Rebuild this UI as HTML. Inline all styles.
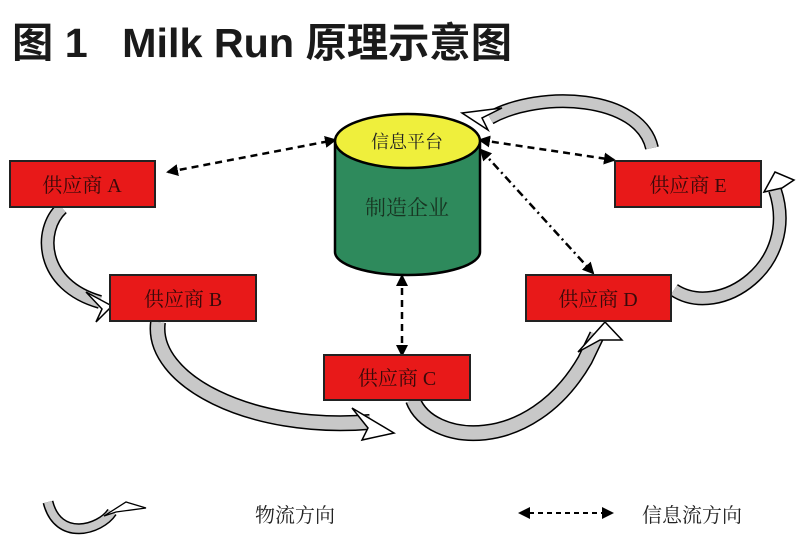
<!DOCTYPE html>
<html><head><meta charset="utf-8"><style>
html,body{margin:0;padding:0;background:#fff;width:800px;height:535px;overflow:hidden}
svg{display:block}
text{font-family:"Liberation Serif","Noto Serif CJK SC","Noto Sans CJK SC",serif}
</style></head><body>
<svg width="800" height="535" viewBox="0 0 800 535" xmlns="http://www.w3.org/2000/svg">
<defs>
<marker id="ah" markerWidth="12" markerHeight="12" refX="10" refY="6" orient="auto-start-reverse" markerUnits="userSpaceOnUse">
<path d="M0,0 L12,6 L0,12 z" fill="#000"/>
</marker>
</defs>
<text x="12" y="57" font-weight="bold" font-size="41" fill="#1a1a1a" textLength="500" lengthAdjust="spacingAndGlyphs" style="font-family:'Liberation Sans','Noto Sans CJK SC',sans-serif">图 1&#160;&#160;&#160;Milk Run 原理示意图</text>

<g stroke-linejoin="round" fill="none">
<path d="M62,208 C38,230 40,285 100,302" stroke="#000" stroke-width="14"/>
<path d="M62,208 C38,230 40,285 100,302" stroke="#c8c8c8" stroke-width="11"/>
<path d="M158,322 C150,380 250,432 370,422" stroke="#000" stroke-width="16"/>
<path d="M158,322 C150,380 250,432 370,422" stroke="#c8c8c8" stroke-width="13"/>
<path d="M413,400 C430,445 530,455 585,360 L597,335" stroke="#000" stroke-width="16"/>
<path d="M413,400 C430,445 530,455 585,360 L597,335" stroke="#c8c8c8" stroke-width="13"/>
<path d="M674,290 C720,320 800,265 775,190" stroke="#000" stroke-width="14"/>
<path d="M674,290 C720,320 800,265 775,190" stroke="#c8c8c8" stroke-width="11"/>
<path d="M652,148 C640,95 540,90 490,118" stroke="#000" stroke-width="14"/>
<path d="M652,148 C640,95 540,90 490,118" stroke="#c8c8c8" stroke-width="11"/>
</g>
<g fill="#fff" stroke="#000" stroke-width="1.5" stroke-linejoin="miter">
<path d="M86,292 L112,306 L96,322 L102,309 z"/>
<path d="M352,408 L394,433 L362,440 L368,428 z"/>
<path d="M578,352 L605,322 L622,340 L600,340 z"/>
<path d="M764,192 L775,172 L794,180 L782,188 z"/>
<path d="M502,108 L462,113 L488,130 L482,118 z"/>
</g>

<g stroke="#000" stroke-width="2.5" stroke-dasharray="7,5" fill="none">
<line x1="168" y1="172" x2="335" y2="140" marker-start="url(#ah)" marker-end="url(#ah)"/>
<line x1="480" y1="140" x2="614" y2="160" marker-start="url(#ah)" marker-end="url(#ah)"/>
<line x1="402" y1="276" x2="402" y2="355" marker-start="url(#ah)" marker-end="url(#ah)"/>
</g>
<line x1="481" y1="150" x2="593" y2="273" stroke="#000" stroke-width="2.5" stroke-dasharray="8,4,2,4" marker-start="url(#ah)" marker-end="url(#ah)"/>

<path d="M335,141 L335,252 A72.5,23 0 0 0 480,252 L480,141 z" fill="#2e8a5c" stroke="#000" stroke-width="2.5"/>
<ellipse cx="407.5" cy="141" rx="72.5" ry="27" fill="#efef3c" stroke="#000" stroke-width="2.5"/>
<text x="407" y="148" font-size="18" text-anchor="middle" fill="#222">信息平台</text>
<text x="407" y="215" font-size="21" text-anchor="middle" fill="#183522">制造企业</text>

<g fill="#e81919" stroke="#222" stroke-width="2">
<rect x="10" y="161" width="145" height="46"/>
<rect x="110" y="275" width="146" height="46"/>
<rect x="324" y="355" width="146" height="45"/>
<rect x="526" y="275" width="145" height="46"/>
<rect x="615" y="161" width="146" height="46"/>
</g>
<g font-size="20" fill="#3a0a0a" text-anchor="middle">
<text x="82" y="192">供应商 A</text>
<text x="183" y="306">供应商 B</text>
<text x="397" y="385">供应商 C</text>
<text x="598" y="306">供应商 D</text>
<text x="688" y="192">供应商 E</text>
</g>

<path d="M48,502 C58,542 100,530 112,512" stroke="#000" stroke-width="11" fill="none"/>
<path d="M48,502 C58,542 100,530 112,512" stroke="#c8c8c8" stroke-width="8" fill="none"/>
<path d="M104,516 L126,502 L146,508 L116,512 z" fill="#fff" stroke="#000" stroke-width="1.3"/>
<text x="255" y="522" font-size="20" fill="#222">物流方向</text>
<line x1="520" y1="513" x2="612" y2="513" stroke="#000" stroke-width="2" stroke-dasharray="5,4" marker-start="url(#ah)" marker-end="url(#ah)"/>
<text x="642" y="522" font-size="20" fill="#222">信息流方向</text>
</svg>
</body></html>
